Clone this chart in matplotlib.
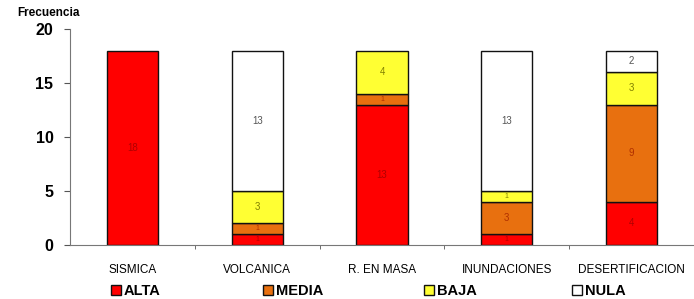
import matplotlib
matplotlib.use("Agg")
import matplotlib.pyplot as plt
import numpy as np

plt.rcParams['font.family'] = ['Liberation Sans', 'DejaVu Sans']

categories = ["SISMICA", "VOLCANICA", "R. EN MASA", "INUNDACIONES", "DESERTIFICACION"]
series_names = ["ALTA", "MEDIA", "BAJA", "NULA"]
alta = [18, 1, 13, 1, 4]
media = [0, 1, 1, 3, 9]
baja = [0, 3, 4, 1, 3]
nula = [0, 13, 0, 13, 2]
yticks = [0, 5, 10, 15, 20]

colors = ["#FF0000", "#E8700F", "#FFFF33", "#FFFFFF"]
text_colors = ["#B00000", "#B03000", "#808000", "#555555"]

W, H = 694, 299
fig = plt.figure(figsize=(W / 100, H / 100), dpi=100)
ax = fig.add_axes([0.101, 0.181, 0.899, 0.722])

x = np.arange(len(categories))
bottom = np.zeros(len(categories))
for vals, c, tc in zip([alta, media, baja, nula], colors, text_colors):
    vals = np.array(vals, dtype=float)
    m = vals > 0
    ax.bar(x[m], vals[m], bottom=bottom[m], width=0.41, color=c, edgecolor="#111111", linewidth=1.0)
    for xi, b, v in zip(x[m], bottom[m], vals[m]):
        ax.text(xi, b + v / 2, f"{int(v)}", ha="center", va="center", fontsize=7 if v > 1 else 5,
                color=tc)
    bottom += vals

ax.set_xlim(-0.5, 4.5)
ax.set_ylim(0, 20)
ax.set_yticks(yticks)
ax.set_yticklabels([str(t) for t in yticks], fontsize=11.5, fontweight="bold")
ax.set_xticks(x)
ax.set_xticklabels(categories, fontsize=8.5)
ax.tick_params(axis="x", length=0, pad=14)
ax.set_xticks(np.arange(0.5, 4.5, 1), minor=True)
ax.tick_params(axis="x", which="minor", length=3, direction="out", color="#555555")
ax.tick_params(axis="y", length=4, direction="out", color="#555555", pad=8)
for s in ["top", "right"]:
    ax.spines[s].set_visible(False)
ax.spines["left"].set_color("#777777")
ax.spines["bottom"].set_color("#777777")

fig.text(0.025, 0.955, "Frecuencia", fontsize=8.5, fontweight="bold", ha="left", va="center")

legend_x = [111, 263, 424, 572]
for name, c, lx in zip(series_names, colors, legend_x):
    h = plt.Rectangle((0, 0), 1, 1, facecolor=c, edgecolor="#111111", linewidth=1.0)
    fig.legend([h], [name], loc="center left", bbox_to_anchor=(lx / W, 1 - 291 / H),
               frameon=False, prop={"weight": "bold", "size": 10.5}, handlelength=0.7,
               handleheight=0.7, handletextpad=0.2, borderpad=0, borderaxespad=0)

fig.savefig("out.png", dpi=100)
